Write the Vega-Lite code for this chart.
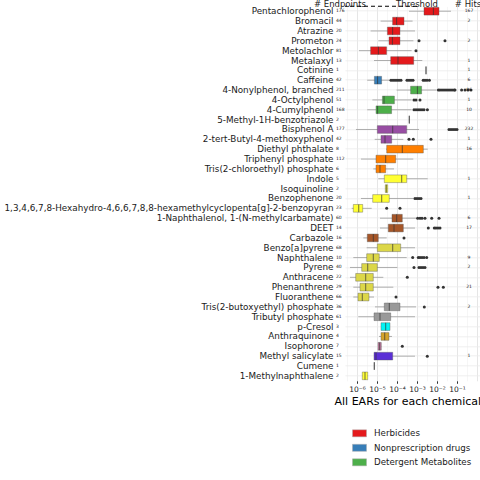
{
  "$schema": "https://vega.github.io/schema/vega-lite/v6.json",
  "autosize": {"type": "none"},
  "padding": {"left": 345, "top": 6.3, "right": 0, "bottom": 99.2},
  "width": 135,
  "height": 374.5,
  "background": "white",
  "config": {
    "font": "DejaVu Sans",
    "view": {"stroke": null},
    "axis": {"labelFont": "DejaVu Sans", "titleFont": "DejaVu Sans"}
  },
  "datasets": {
    "stats": [
      {"chem": "Pentachlorophenol", "cls": "Herbicides", "ep": 176, "hits": 167, "lo": 3.98e-4, "q1": 2.24e-3, "med": 6.61e-3, "q3": 1.26e-2, "hi": 5.01e-2},
      {"chem": "Bromacil", "cls": "Herbicides", "ep": 44, "hits": 2, "lo": 1.51e-5, "q1": 6.03e-5, "med": 9.55e-5, "q3": 2.24e-4, "hi": 6.03e-4},
      {"chem": "Atrazine", "cls": "Herbicides", "ep": 20, "hits": 0, "lo": 4.79e-6, "q1": 3.31e-5, "med": 6.03e-5, "q3": 1.41e-4, "hi": 7.94e-4},
      {"chem": "Prometon", "cls": "Herbicides", "ep": 24, "hits": 2, "lo": 1.17e-5, "q1": 3.98e-5, "med": 5.89e-5, "q3": 1.41e-4, "hi": 6.61e-4},
      {"chem": "Metolachlor", "cls": "Herbicides", "ep": 81, "hits": 0, "lo": 1.26e-6, "q1": 4.79e-6, "med": 1.17e-5, "q3": 3.02e-5, "hi": 5.37e-4},
      {"chem": "Metalaxyl", "cls": "Herbicides", "ep": 13, "hits": 1, "lo": 7.08e-6, "q1": 4.84e-5, "med": 1.12e-4, "q3": 6.84e-4, "hi": 1.84e-3},
      {"chem": "Cotinine", "cls": "Nonprescription drugs", "ep": 1, "hits": 1, "lo": 2.82e-3, "q1": 2.82e-3, "med": 2.82e-3, "q3": 2.82e-3, "hi": 2.82e-3},
      {"chem": "Caffeine", "cls": "Nonprescription drugs", "ep": 42, "hits": 6, "lo": 3.24e-6, "q1": 7.41e-6, "med": 1.07e-5, "q3": 1.70e-5, "hi": 4.47e-5},
      {"chem": "4-Nonylphenol, branched", "cls": "Detergent Metabolites", "ep": 211, "hits": 86, "lo": 9.55e-5, "q1": 4.79e-4, "med": 1.05e-3, "q3": 1.70e-3, "hi": 9.55e-3},
      {"chem": "4-Octylphenol", "cls": "Detergent Metabolites", "ep": 51, "hits": 1, "lo": 5.89e-6, "q1": 1.86e-5, "med": 2.24e-5, "q3": 7.41e-5, "hi": 5.37e-4},
      {"chem": "4-Cumylphenol", "cls": "Detergent Metabolites", "ep": 168, "hits": 10, "lo": 3.24e-6, "q1": 8.91e-6, "med": 1.07e-5, "q3": 5.37e-5, "hi": 5.37e-4},
      {"chem": "5-Methyl-1H-benzotriazole", "cls": "Antioxidants", "ep": 2, "hits": 0, "lo": 4.12e-4, "q1": 4.12e-4, "med": 4.12e-4, "q3": 4.12e-4, "hi": 4.12e-4},
      {"chem": "Bisphenol A", "cls": "Antioxidants", "ep": 177, "hits": 232, "lo": 8.91e-7, "q1": 1.04e-5, "med": 6.1e-5, "q3": 3.05e-4, "hi": 1.26e-3},
      {"chem": "2-tert-Butyl-4-methoxyphenol", "cls": "Antioxidants", "ep": 42, "hits": 1, "lo": 7.67e-6, "q1": 1.58e-5, "med": 2.51e-5, "q3": 5.43e-5, "hi": 2.07e-4},
      {"chem": "Diethyl phthalate", "cls": "Fire retardants", "ep": 8, "hits": 16, "lo": 2.82e-5, "q1": 3.05e-5, "med": 1.84e-4, "q3": 2.07e-3, "hi": 3.43e-3},
      {"chem": "Triphenyl phosphate", "cls": "Fire retardants", "ep": 112, "hits": 0, "lo": 1.58e-6, "q1": 8.91e-6, "med": 2.72e-5, "q3": 8.61e-5, "hi": 6.53e-4},
      {"chem": "Tris(2-chloroethyl) phosphate", "cls": "Fire retardants", "ep": 6, "hits": 0, "lo": 6.53e-6, "q1": 8.91e-6, "med": 1.41e-5, "q3": 2.72e-5, "hi": 7.08e-5},
      {"chem": "Indole", "cls": "Flavors and Fragrances", "ep": 5, "hits": 1, "lo": 1.16e-5, "q1": 2.32e-5, "med": 1.72e-4, "q3": 3.05e-4, "hi": 3.43e-3},
      {"chem": "Isoquinoline", "cls": "Flavors and Fragrances", "ep": 2, "hits": 0, "lo": 2.6e-5, "q1": 2.6e-5, "med": 2.92e-5, "q3": 3.43e-5, "hi": 3.43e-5},
      {"chem": "Benzophenone", "cls": "Flavors and Fragrances", "ep": 20, "hits": 1, "lo": 1.58e-6, "q1": 6.1e-6, "med": 1.72e-5, "q3": 4.12e-5, "hi": 6.53e-4},
      {"chem": "1,3,4,6,7,8-Hexahydro-4,6,6,7,8,8-hexamethylcyclopenta[g]-2-benzopyran", "cls": "Flavors and Fragrances", "ep": 23, "hits": 0, "lo": 5.43e-7, "q1": 6.53e-7, "med": 1.22e-6, "q3": 1.93e-6, "hi": 5.43e-6},
      {"chem": "1-Naphthalenol, 1-(N-methylcarbamate)", "cls": "Insecticides", "ep": 60, "hits": 6, "lo": 1.41e-5, "q1": 5.62e-5, "med": 9.66e-5, "q3": 1.84e-4, "hi": 9.66e-4},
      {"chem": "DEET", "cls": "Insecticides", "ep": 14, "hits": 17, "lo": 1.41e-5, "q1": 3.67e-5, "med": 7.08e-5, "q3": 2.07e-4, "hi": 7.94e-4},
      {"chem": "Carbazole", "cls": "Insecticides", "ep": 16, "hits": 0, "lo": 2.07e-6, "q1": 3.27e-6, "med": 6.53e-6, "q3": 1.16e-5, "hi": 3.05e-5},
      {"chem": "Benzo[a]pyrene", "cls": "PAHs", "ep": 68, "hits": 0, "lo": 3.05e-6, "q1": 1.04e-5, "med": 6.1e-5, "q3": 1.53e-4, "hi": 7.94e-4},
      {"chem": "Naphthalene", "cls": "PAHs", "ep": 10, "hits": 9, "lo": 6.53e-7, "q1": 3.05e-6, "med": 6.53e-6, "q3": 1.3e-5, "hi": 3.05e-4},
      {"chem": "Pyrene", "cls": "PAHs", "ep": 40, "hits": 2, "lo": 4.47e-7, "q1": 1.72e-6, "med": 3.43e-6, "q3": 1.04e-5, "hi": 1.04e-4},
      {"chem": "Anthracene", "cls": "PAHs", "ep": 22, "hits": 0, "lo": 4.47e-7, "q1": 8.61e-7, "med": 2.72e-6, "q3": 6.53e-6, "hi": 2.07e-5},
      {"chem": "Phenanthrene", "cls": "PAHs", "ep": 29, "hits": 21, "lo": 6.53e-7, "q1": 1.41e-6, "med": 2.72e-6, "q3": 6.53e-6, "hi": 6.53e-5},
      {"chem": "Fluoranthene", "cls": "PAHs", "ep": 66, "hits": 0, "lo": 6.53e-7, "q1": 1.12e-6, "med": 1.84e-6, "q3": 3.98e-6, "hi": 7.08e-6},
      {"chem": "Tris(2-butoxyethyl) phosphate", "cls": "Plasticizers", "ep": 36, "hits": 2, "lo": 7.94e-6, "q1": 2.32e-5, "med": 4.12e-5, "q3": 1.41e-4, "hi": 8.91e-4},
      {"chem": "Tributyl phosphate", "cls": "Plasticizers", "ep": 61, "hits": 0, "lo": 1.16e-6, "q1": 7.08e-6, "med": 1.41e-5, "q3": 4.84e-5, "hi": 7.94e-4},
      {"chem": "p-Cresol", "cls": "Disinfectants", "ep": 3, "hits": 0, "lo": 1.58e-5, "q1": 1.58e-5, "med": 2.72e-5, "q3": 4.47e-5, "hi": 4.47e-5},
      {"chem": "Anthraquinone", "cls": "Dyes and Pigments", "ep": 4, "hits": 0, "lo": 1.26e-5, "q1": 1.58e-5, "med": 2.43e-5, "q3": 3.98e-5, "hi": 5.62e-5},
      {"chem": "Isophorone", "cls": "Solvents", "ep": 7, "hits": 0, "lo": 1.12e-5, "q1": 1.12e-5, "med": 1.36e-5, "q3": 1.64e-5, "hi": 1.64e-5},
      {"chem": "Methyl salicylate", "cls": "Antimicrobials", "ep": 15, "hits": 1, "lo": 7.08e-6, "q1": 7.08e-6, "med": 8.91e-6, "q3": 6.1e-5, "hi": 7.94e-4},
      {"chem": "Cumene", "cls": "Solvents", "ep": 1, "hits": 0, "lo": 7.33e-6, "q1": 7.33e-6, "med": 7.33e-6, "q3": 7.33e-6, "hi": 7.33e-6},
      {"chem": "1-Methylnaphthalene", "cls": "Flavors and Fragrances", "ep": 2, "hits": 0, "lo": 1.84e-6, "q1": 1.84e-6, "med": 2.51e-6, "q3": 3.43e-6, "hi": 3.43e-6}
    ],
    "out": [
      {"chem": "Prometon", "v": 1.26e-3}, {"chem": "Prometon", "v": 2.51e-2},
      {"chem": "Metolachlor", "v": 8.91e-4},
      {"chem": "Caffeine", "v": 5.01e-5}, {"chem": "Caffeine", "v": 6.31e-5}, {"chem": "Caffeine", "v": 7.94e-5}, {"chem": "Caffeine", "v": 1e-4}, {"chem": "Caffeine", "v": 1.26e-4}, {"chem": "Caffeine", "v": 1.58e-4},
      {"chem": "Caffeine", "v": 3.16e-4}, {"chem": "Caffeine", "v": 3.98e-4}, {"chem": "Caffeine", "v": 5.01e-4}, {"chem": "Caffeine", "v": 6.31e-4},
      {"chem": "Caffeine", "v": 2.04e-3}, {"chem": "Caffeine", "v": 2.51e-3}, {"chem": "Caffeine", "v": 3.16e-3}, {"chem": "Caffeine", "v": 4.17e-3},
      {"chem": "4-Nonylphenol, branched", "v": 1.17e-2}, {"chem": "4-Nonylphenol, branched", "v": 1.41e-2}, {"chem": "4-Nonylphenol, branched", "v": 1.78e-2}, {"chem": "4-Nonylphenol, branched", "v": 2.24e-2}, {"chem": "4-Nonylphenol, branched", "v": 2.82e-2}, {"chem": "4-Nonylphenol, branched", "v": 3.55e-2}, {"chem": "4-Nonylphenol, branched", "v": 4.47e-2}, {"chem": "4-Nonylphenol, branched", "v": 5.62e-2}, {"chem": "4-Nonylphenol, branched", "v": 7.08e-2}, {"chem": "4-Nonylphenol, branched", "v": 7.94e-2}, {"chem": "4-Nonylphenol, branched", "v": 0.17}, {"chem": "4-Nonylphenol, branched", "v": 0.251}, {"chem": "4-Nonylphenol, branched", "v": 0.355}, {"chem": "4-Nonylphenol, branched", "v": 0.5},
      {"chem": "4-Octylphenol", "v": 7.08e-4}, {"chem": "4-Octylphenol", "v": 8.91e-4}, {"chem": "4-Octylphenol", "v": 1.41e-3},
      {"chem": "4-Cumylphenol", "v": 7.08e-4}, {"chem": "4-Cumylphenol", "v": 8.91e-4}, {"chem": "4-Cumylphenol", "v": 1.12e-3}, {"chem": "4-Cumylphenol", "v": 1.41e-3}, {"chem": "4-Cumylphenol", "v": 1.78e-3}, {"chem": "4-Cumylphenol", "v": 2.24e-3}, {"chem": "4-Cumylphenol", "v": 3.31e-3},
      {"chem": "Bisphenol A", "v": 3.98e-2}, {"chem": "Bisphenol A", "v": 5.01e-2}, {"chem": "Bisphenol A", "v": 6.31e-2}, {"chem": "Bisphenol A", "v": 7.94e-2}, {"chem": "Bisphenol A", "v": 0.1},
      {"chem": "2-tert-Butyl-4-methoxyphenol", "v": 3.98e-4}, {"chem": "2-tert-Butyl-4-methoxyphenol", "v": 6.53e-4}, {"chem": "2-tert-Butyl-4-methoxyphenol", "v": 5.01e-3},
      {"chem": "Benzophenone", "v": 7.94e-4}, {"chem": "Benzophenone", "v": 1e-3}, {"chem": "Benzophenone", "v": 1.26e-3}, {"chem": "Benzophenone", "v": 1.58e-3},
      {"chem": "1,3,4,6,7,8-Hexahydro-4,6,6,7,8,8-hexamethylcyclopenta[g]-2-benzopyran", "v": 3.05e-5}, {"chem": "1,3,4,6,7,8-Hexahydro-4,6,6,7,8,8-hexamethylcyclopenta[g]-2-benzopyran", "v": 1.41e-4},
      {"chem": "1-Naphthalenol, 1-(N-methylcarbamate)", "v": 1.08e-3}, {"chem": "1-Naphthalenol, 1-(N-methylcarbamate)", "v": 1.41e-3}, {"chem": "1-Naphthalenol, 1-(N-methylcarbamate)", "v": 1.78e-3}, {"chem": "1-Naphthalenol, 1-(N-methylcarbamate)", "v": 2.51e-3}, {"chem": "1-Naphthalenol, 1-(N-methylcarbamate)", "v": 5.43e-3}, {"chem": "1-Naphthalenol, 1-(N-methylcarbamate)", "v": 1.26e-2},
      {"chem": "DEET", "v": 3.67e-3}, {"chem": "DEET", "v": 7.33e-3}, {"chem": "DEET", "v": 8.91e-3}, {"chem": "DEET", "v": 1.12e-2}, {"chem": "DEET", "v": 1.41e-2},
      {"chem": "Carbazole", "v": 2.24e-4},
      {"chem": "Naphthalene", "v": 6.1e-4}, {"chem": "Naphthalene", "v": 1.16e-3}, {"chem": "Naphthalene", "v": 1.41e-3}, {"chem": "Naphthalene", "v": 1.78e-3}, {"chem": "Naphthalene", "v": 2.24e-3}, {"chem": "Naphthalene", "v": 3.05e-3},
      {"chem": "Pyrene", "v": 7.08e-4}, {"chem": "Pyrene", "v": 1.26e-3}, {"chem": "Pyrene", "v": 1.58e-3}, {"chem": "Pyrene", "v": 2.0e-3}, {"chem": "Pyrene", "v": 2.51e-3},
      {"chem": "Anthracene", "v": 3.27e-4},
      {"chem": "Phenanthrene", "v": 1.12e-2}, {"chem": "Phenanthrene", "v": 2.07e-2},
      {"chem": "Fluoranthene", "v": 8.91e-5},
      {"chem": "Tris(2-butoxyethyl) phosphate", "v": 2.32e-3},
      {"chem": "Isophorone", "v": 1.84e-4},
      {"chem": "Methyl salicylate", "v": 3.27e-3}
    ],
    "heads": [
      {"chem": "Pentachlorophenol", "label": "# Endpoints", "x": 1.41e-7},
      {"chem": "Pentachlorophenol", "label": "Threshold", "x": 1e-3},
      {"chem": "Pentachlorophenol", "label": "# Hits", "x": 0.355}
    ],
    "thr": [{"t": 1e-3}]
  },
  "encoding": {
    "y": {
      "field": "chem", "type": "nominal", "title": null,
      "scale": {"paddingInner": 0, "paddingOuter": 0, "domain": ["Pentachlorophenol", "Bromacil", "Atrazine", "Prometon", "Metolachlor", "Metalaxyl", "Cotinine", "Caffeine", "4-Nonylphenol, branched", "4-Octylphenol", "4-Cumylphenol", "5-Methyl-1H-benzotriazole", "Bisphenol A", "2-tert-Butyl-4-methoxyphenol", "Diethyl phthalate", "Triphenyl phosphate", "Tris(2-chloroethyl) phosphate", "Indole", "Isoquinoline", "Benzophenone", "1,3,4,6,7,8-Hexahydro-4,6,6,7,8,8-hexamethylcyclopenta[g]-2-benzopyran", "1-Naphthalenol, 1-(N-methylcarbamate)", "DEET", "Carbazole", "Benzo[a]pyrene", "Naphthalene", "Pyrene", "Anthracene", "Phenanthrene", "Fluoranthene", "Tris(2-butoxyethyl) phosphate", "Tributyl phosphate", "p-Cresol", "Anthraquinone", "Isophorone", "Methyl salicylate", "Cumene", "1-Methylnaphthalene"]},
      "axis": {"ticks": false, "domain": false, "labelPadding": 12, "labelLimit": 400, "labelFontSize": 8.8, "labelColor": "#1a1a1a", "grid": true, "gridColor": "#EBEBEB", "gridWidth": 0.8, "bandPosition": 0.5}
    }
  },
  "layer": [
    {
      "data": {"name": "stats"},
      "mark": {"type": "rule", "color": "#9a9a9a", "strokeWidth": 0.8},
      "encoding": {
        "x": {
          "field": "lo", "type": "quantitative", "title": "All EARs for each chemical",
          "scale": {"type": "log", "domain": [2.512e-7, 1.4125], "nice": false},
          "axis": {
            "values": [3.162e-7, 1e-6, 3.162e-6, 1e-5, 3.162e-5, 1e-4, 3.162e-4, 1e-3, 3.162e-3, 1e-2, 3.162e-2, 0.1, 0.3162, 1],
            "labelExpr": "abs(log(datum.value)/LN10 - round(log(datum.value)/LN10)) > 0.01 || round(log(datum.value)/LN10) >= 0 ? '' : '10' + ['⁰','⁻¹','⁻²','⁻³','⁻⁴','⁻⁵','⁻⁶','⁻⁷'][-round(log(datum.value)/LN10)]",
            "labelOverlap": false, "labelFlush": false, "labelFontSize": 7.5, "labelColor": "#1a1a1a", "labelPadding": 2,
            "domain": false, "tickSize": 2.5, "tickColor": "#333333",
            "tickOpacity": {"condition": {"test": "abs(log(datum.value)/LN10 - round(log(datum.value)/LN10)) < 0.01 && datum.value < 0.5", "value": 1}, "value": 0},
            "grid": true,
            "gridColor": {"condition": {"test": "abs(log(datum.value)/LN10 - round(log(datum.value)/LN10)) < 0.01", "value": "#E6E6E6"}, "value": "#F0F0F0"},
            "gridWidth": {"condition": {"test": "abs(log(datum.value)/LN10 - round(log(datum.value)/LN10)) < 0.01", "value": 1}, "value": 0.6},
            "titleFontSize": 11, "titleFontWeight": "normal", "titleColor": "black", "titlePadding": 2.5, "titleX": 62.3
          }
        },
        "x2": {"field": "hi"}
      }
    },
    {
      "data": {"name": "stats"},
      "mark": {"type": "bar", "height": {"band": 0.78}, "stroke": "#555555", "strokeWidth": 0.4},
      "encoding": {
        "x": {"field": "q1", "type": "quantitative"},
        "x2": {"field": "q3"},
        "color": {
          "field": "cls", "type": "nominal",
          "scale": {
            "domain": ["Herbicides", "Nonprescription drugs", "Detergent Metabolites", "Antioxidants", "Fire retardants", "Flavors and Fragrances", "Insecticides", "PAHs", "Plasticizers", "Disinfectants", "Dyes and Pigments", "Solvents", "Antimicrobials"],
            "range": ["#E41A1C", "#377EB8", "#4DAF4A", "#984EA3", "#FF7F00", "#FFFF33", "#A65628", "#DCD748", "#999999", "#00F5F5", "#D4A32A", "#C27BA0", "#5B2FD6"]
          },
          "legend": {
            "title": null, "orient": "none", "legendX": 7, "legendY": 419.5, "padding": 0,
            "values": ["Herbicides", "Nonprescription drugs", "Detergent Metabolites"],
            "symbolType": "M-1,-0.5H1V0.5H-1Z", "symbolSize": 196, "symbolStrokeColor": "#aaaaaa", "symbolStrokeWidth": 0.5,
            "labelFontSize": 8.7, "labelColor": "#1a1a1a", "labelOffset": 7, "rowPadding": 1.5
          }
        }
      }
    },
    {
      "data": {"name": "stats"},
      "mark": {"type": "tick", "orient": "vertical", "size": 7.7, "thickness": 1, "color": "#333333"},
      "encoding": {"x": {"field": "med", "type": "quantitative"}}
    },
    {
      "data": {"name": "out"},
      "mark": {"type": "point", "filled": true, "size": 9, "color": "#333333", "opacity": 1},
      "encoding": {"x": {"field": "v", "type": "quantitative"}}
    },
    {
      "data": {"name": "stats"},
      "mark": {"type": "text", "align": "left", "baseline": "middle", "fontSize": 4.5, "color": "#1a1a1a"},
      "encoding": {"x": {"datum": 8.91e-8, "type": "quantitative"}, "text": {"field": "ep"}}
    },
    {
      "data": {"name": "stats"},
      "transform": [{"filter": "datum.hits > 0"}],
      "mark": {"type": "text", "align": "center", "baseline": "middle", "fontSize": 4.5, "color": "#1a1a1a"},
      "encoding": {"x": {"datum": 0.398, "type": "quantitative"}, "text": {"field": "hits"}}
    },
    {
      "data": {"name": "heads"},
      "mark": {"type": "text", "align": "center", "baseline": "alphabetic", "fontSize": 8.5, "dy": -4.6, "color": "#1a1a1a"},
      "encoding": {"x": {"field": "x", "type": "quantitative"}, "text": {"field": "label"}}
    },
    {
      "data": {"name": "thr"},
      "mark": {"type": "rule", "color": "black", "strokeWidth": 1.1, "strokeDash": [4, 3]},
      "encoding": {"x": {"field": "t", "type": "quantitative"}}
    }
  ]
}
